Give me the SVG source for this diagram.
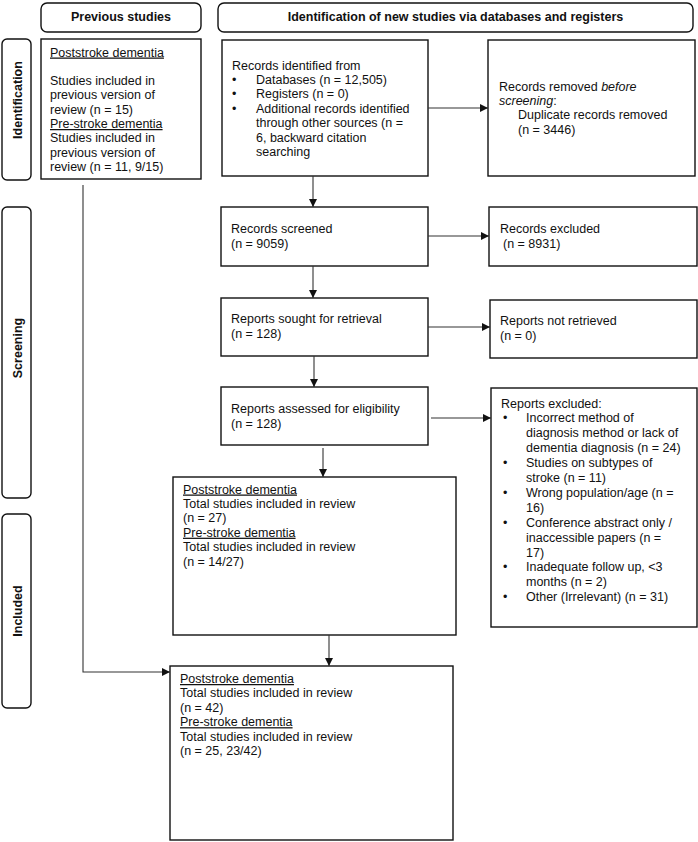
<svg xmlns="http://www.w3.org/2000/svg" width="698" height="842" viewBox="0 0 698 842">
<defs>
<style>
.box{fill:#fff;stroke:#111;stroke-width:1.4}
.lab{fill:#fff;stroke:#111;stroke-width:1.4}
.t{font-family:"Liberation Sans",Arial,sans-serif;font-size:12.5px;fill:#111}
.b{font-family:"Liberation Sans",Arial,sans-serif;font-size:12.5px;font-weight:bold;fill:#111}
.u{text-decoration:underline}
.c{fill:none;stroke:#333;stroke-width:1.1}
</style>
<marker id="ah" markerWidth="8" markerHeight="8" refX="8" refY="4" orient="auto" markerUnits="userSpaceOnUse">
<path d="M0,0 L8,4 L0,8 Z" fill="#111"/>
</marker>
</defs>
<rect width="698" height="842" fill="#fff"/>

<g id="hdr-prev">
<rect class="lab" x="41" y="3" width="160" height="29" rx="6"/>
<text class="b" x="121" y="21" text-anchor="middle">Previous studies</text>
</g>
<g id="hdr-new">
<rect class="lab" x="218" y="3" width="475" height="29" rx="6"/>
<text class="b" x="455.5" y="21" text-anchor="middle">Identification of new studies via databases and registers</text>
</g>

<g id="side-identification">
<rect class="lab" x="2" y="39" width="29" height="141" rx="5"/>
<text class="b" transform="translate(21.5,100) rotate(-90)" text-anchor="middle">Identification</text>
</g>
<g id="side-screening">
<rect class="lab" x="2" y="207" width="29" height="291" rx="5"/>
<text class="b" transform="translate(21.5,348) rotate(-90)" text-anchor="middle">Screening</text>
</g>
<g id="side-included">
<rect class="lab" x="2" y="514" width="29" height="194" rx="5"/>
<text class="b" transform="translate(21.5,611) rotate(-90)" text-anchor="middle">Included</text>
</g>

<g id="previous">
<rect class="box" x="41" y="39" width="160" height="140"/>
<text class="t" x="50"><tspan class="u" x="50" y="56.5">Poststroke dementia</tspan><tspan x="50" y="85.1">Studies included in</tspan><tspan x="50" y="99.4">previous version of</tspan><tspan x="50" y="113.7">review (n = 15)</tspan><tspan class="u" x="50" y="128">Pre-stroke dementia</tspan><tspan x="50" y="142.3">Studies included in</tspan><tspan x="50" y="156.6">previous version of</tspan><tspan x="50" y="170.9">review (n = 11, 9/15)</tspan></text>
</g>

<g id="identified">
<rect class="box" x="222" y="40" width="206" height="136"/>
<text class="t"><tspan x="232" y="69.5">Records identified from</tspan><tspan x="232" y="83.9">•</tspan><tspan x="256" y="83.9">Databases (n = 12,505)</tspan><tspan x="232" y="98.3">•</tspan><tspan x="256" y="98.3">Registers (n = 0)</tspan><tspan x="232" y="112.7">•</tspan><tspan x="256" y="112.7">Additional records identified</tspan><tspan x="256" y="127.1">through other sources (n =</tspan><tspan x="256" y="141.5">6, backward citation</tspan><tspan x="256" y="155.9">searching</tspan></text>
</g>

<g id="removed">
<rect class="box" x="488" y="40" width="207" height="136"/>
<text class="t"><tspan x="499" y="90.5">Records removed <tspan font-style="italic">before</tspan></tspan><tspan x="499" y="104.9"><tspan font-style="italic">screening</tspan>:</tspan><tspan x="518" y="119.3">Duplicate records removed</tspan><tspan x="518" y="133.7">(n = 3446)</tspan></text>
</g>

<g id="screened">
<rect class="box" x="221" y="207" width="207" height="59"/>
<text class="t"><tspan x="231" y="232.8">Records screened</tspan><tspan x="231" y="247.5">(n = 9059)</tspan></text>
</g>

<g id="excluded">
<rect class="box" x="489" y="207" width="208" height="59"/>
<text class="t"><tspan x="500" y="232.8">Records excluded</tspan><tspan x="503" y="247.5">(n = 8931)</tspan></text>
</g>

<g id="sought">
<rect class="box" x="221" y="298" width="207" height="58"/>
<text class="t"><tspan x="231" y="322.5">Reports sought for retrieval</tspan><tspan x="231" y="337.5">(n = 128)</tspan></text>
</g>

<g id="notretrieved">
<rect class="box" x="490" y="300" width="207" height="58"/>
<text class="t"><tspan x="500" y="324.5">Reports not retrieved</tspan><tspan x="500" y="339.5">(n = 0)</tspan></text>
</g>

<g id="assessed">
<rect class="box" x="221" y="387" width="207" height="58"/>
<text class="t"><tspan x="231" y="412.5">Reports assessed for eligibility</tspan><tspan x="231" y="427.5">(n = 128)</tspan></text>
</g>

<g id="reportsexcluded">
<rect class="box" x="491" y="388" width="206" height="239"/>
<text class="t"><tspan x="501" y="407.5">Reports excluded:</tspan><tspan x="503" y="422.4">•</tspan><tspan x="526" y="422.4">Incorrect method of</tspan><tspan x="526" y="437.3">diagnosis method or lack of</tspan><tspan x="526" y="452.2">dementia diagnosis (n = 24)</tspan><tspan x="503" y="467.1">•</tspan><tspan x="526" y="467.1">Studies on subtypes of</tspan><tspan x="526" y="482">stroke (n = 11)</tspan><tspan x="503" y="496.9">•</tspan><tspan x="526" y="496.9">Wrong population/age (n =</tspan><tspan x="526" y="511.8">16)</tspan><tspan x="503" y="526.7">•</tspan><tspan x="526" y="526.7">Conference abstract only /</tspan><tspan x="526" y="541.6">inaccessible papers (n =</tspan><tspan x="526" y="556.5">17)</tspan><tspan x="503" y="571.4">•</tspan><tspan x="526" y="571.4">Inadequate follow up, &lt;3</tspan><tspan x="526" y="586.3">months (n = 2)</tspan><tspan x="503" y="601.2">•</tspan><tspan x="526" y="601.2">Other (Irrelevant) (n = 31)</tspan></text>
</g>

<g id="included1">
<rect class="box" x="173" y="477" width="283" height="158"/>
<text class="t"><tspan class="u" x="183" y="493.5">Poststroke dementia</tspan><tspan x="183" y="507.9">Total studies included in review</tspan><tspan x="183" y="522.3">(n = 27)</tspan><tspan class="u" x="183" y="536.7">Pre-stroke dementia</tspan><tspan x="183" y="551.1">Total studies included in review</tspan><tspan x="183" y="565.5">(n = 14/27)</tspan></text>
</g>

<g id="included2">
<rect class="box" x="170" y="666" width="283" height="174"/>
<text class="t"><tspan class="u" x="180" y="683">Poststroke dementia</tspan><tspan x="180" y="697.4">Total studies included in review</tspan><tspan x="180" y="711.8">(n = 42)</tspan><tspan class="u" x="180" y="726.2">Pre-stroke dementia</tspan><tspan x="180" y="740.6">Total studies included in review</tspan><tspan x="180" y="755">(n = 25, 23/42)</tspan></text>
</g>

<g id="connectors">
<line class="c" x1="428" y1="108" x2="488" y2="108" marker-end="url(#ah)"/>
<line class="c" x1="313" y1="176" x2="313" y2="207" marker-end="url(#ah)"/>
<line class="c" x1="428" y1="236" x2="489" y2="236" marker-end="url(#ah)"/>
<line class="c" x1="313" y1="266" x2="313" y2="298" marker-end="url(#ah)"/>
<line class="c" x1="428" y1="327" x2="490" y2="327" marker-end="url(#ah)"/>
<line class="c" x1="314" y1="356" x2="314" y2="387" marker-end="url(#ah)"/>
<line class="c" x1="431" y1="418" x2="491" y2="418" marker-end="url(#ah)"/>
<line class="c" x1="323" y1="448" x2="323" y2="477" marker-end="url(#ah)"/>
<line class="c" x1="329" y1="635" x2="329" y2="666" marker-end="url(#ah)"/>
<polyline class="c" points="83,185 83,672 170,672" marker-end="url(#ah)"/>
</g>
</svg>
